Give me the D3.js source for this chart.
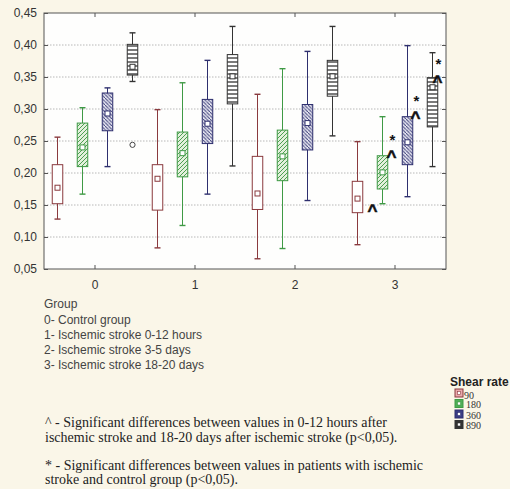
<!DOCTYPE html>
<html><head><meta charset="utf-8">
<script src="https://cdn.jsdelivr.net/npm/d3@7/dist/d3.min.js"></script>
<style>body{margin:0;background:#faf6e8}svg{display:block}</style>
</head><body><svg id="c" width="510" height="489"></svg>
<script>
const groups = ["0","1","2","3"];
const series = ["90","180","360","890"];
// per series: arrays over groups
const whiskerLow  = {"90":[0.128,0.083,0.066,0.088],"180":[0.167,0.118,0.082,0.152],"360":[0.210,0.167,0.157,0.163],"890":[0.343,0.211,0.258,0.210]};
const boxLow      = {"90":[0.152,0.142,0.143,0.138],"180":[0.210,0.194,0.188,0.175],"360":[0.266,0.246,0.236,0.213],"890":[0.353,0.308,0.320,0.272]};
const meanValue   = {"90":[0.177,0.191,0.168,0.160],"180":[0.240,0.231,0.226,0.201],"360":[0.293,0.277,0.278,0.248],"890":[0.366,0.351,0.351,0.334]};
const boxHigh     = {"90":[0.213,0.213,0.226,0.187],"180":[0.278,0.264,0.267,0.227],"360":[0.325,0.315,0.307,0.288],"890":[0.401,0.385,0.376,0.349]};
const whiskerHigh = {"90":[0.256,0.299,0.323,0.249],"180":[0.302,0.341,0.363,0.288],"360":[0.333,0.376,0.390,0.399],"890":[0.419,0.429,0.429,0.388]};
const outlierGroup = ["0"], outlierSeries = ["890"], outlierValue = [0.244];
const yTicks = [0.05,0.10,0.15,0.20,0.25,0.30,0.35,0.40,0.45];
const markGroup  = ["3","3","3","3","3","3","3"];
const markSeries = ["90","180","180","360","360","890","890"];
const markSymbol = ["^","^","*","^","*","^","*"];
const markValue  = [0.150,0.234,0.258,0.295,0.319,0.351,0.376];
const markShift  = [15,9,10,8,9,5,6];
const groupTitle = "Group";
const groupLines = ["0- Control group","1- Ischemic stroke 0-12 hours","2- Ischemic stroke 3-5 days","3- Ischemic stroke 18-20 days"];
const note1 = ["^ - Significant differences between values in 0-12 hours after","ischemic stroke and 18-20 days after ischemic stroke  (p<0,05)."];
const note2 = ["* - Significant differences between values in patients with ischemic","stroke and control group (p<0,05)."];

const stroke = {"90":"#8a3a3e","180":"#3f9a45","360":"#2e2f6e","890":"#333333"};
const fill = {"90":"#ffffff","180":"url(#pg)","360":"url(#pb)","890":"url(#pk)"};

const svg = d3.select("#c");
svg.append("rect").attr("width",510).attr("height",489).attr("fill","#faf6e8");
const defs = svg.append("defs");
function pat(id,bg,col,size,d,sw){
  const p=defs.append("pattern").attr("id",id).attr("patternUnits","userSpaceOnUse").attr("width",size).attr("height",size);
  p.append("rect").attr("width",size).attr("height",size).attr("fill",bg);
  p.append("path").attr("d",d).attr("stroke",col).attr("stroke-width",sw).attr("fill","none");
}
pat("pg","#e3f0dc","#4d9f52",4,"M-1,1 l2,-2 M0,4 l4,-4 M3,5 l2,-2",1);
pat("pb","#e4e4ef","#3a3b78",3.5,"M-1,-1 l2,2 M0,0 l3.5,3.5 M2.5,4.5 l2,2",1);
pat("pk","#ffffff","#333",4,"M0,2 H4",1.3);

const L=44, R=446, T=13, B=269;
const y = d3.scaleLinear().domain([0.05,0.45]).range([B,T]);
const x0 = d3.scaleBand().domain(groups).range([45,445]).padding(0);
const x1 = d3.scaleBand().domain(series).range([0,x0.bandwidth()]);
const bw = x1.bandwidth()*0.42;
const cx = (g,s)=>x0(g)+x1(s)+x1.bandwidth()/2;

svg.append("rect").attr("x",L).attr("y",T).attr("width",R-L).attr("height",B-T).attr("fill","#fefefd");
// grid
svg.append("g").selectAll("line").data(yTicks.slice(1,-1)).join("line")
  .attr("x1",L).attr("x2",R).attr("y1",d=>y(d)).attr("y2",d=>y(d))
  .attr("stroke","#b8b8b8").attr("stroke-dasharray","1.5,1.5");
// frame
svg.append("rect").attr("x",L).attr("y",T).attr("width",R-L).attr("height",B-T).attr("fill","none").attr("stroke","#555").attr("stroke-width",1);
// axes
const fmt = d=>d3.format(".2f")(d).replace(".",",");
const ya = svg.append("g").attr("transform",`translate(${L},0)`).call(d3.axisLeft(y).tickValues(yTicks).tickFormat(fmt).tickSize(-4).tickPadding(7));
ya.select(".domain").remove();
const yr = svg.append("g").attr("transform",`translate(${R},0)`).call(d3.axisRight(y).tickValues(yTicks).tickFormat("").tickSize(-4));
yr.select(".domain").remove();
const xa = svg.append("g").attr("transform",`translate(0,${B})`).call(d3.axisBottom(x0).tickSize(-4).tickPadding(11));
xa.select(".domain").remove();
const xt = svg.append("g").attr("transform",`translate(0,${T})`).call(d3.axisTop(x0).tickFormat("").tickSize(-4));
xt.select(".domain").remove();
svg.selectAll(".tick line").attr("stroke","#555");
svg.selectAll(".tick text").attr("font-family","Liberation Sans, Arial, sans-serif").attr("font-size",12).attr("fill","#333");

// boxes
const items=[];
groups.forEach((g,gi)=>series.forEach(s=>items.push({g,s,wl:whiskerLow[s][gi],bl:boxLow[s][gi],m:meanValue[s][gi],bh:boxHigh[s][gi],wh:whiskerHigh[s][gi]})));
const bx = svg.append("g").selectAll("g").data(items).join("g").attr("stroke",d=>stroke[d.s]).attr("stroke-width",1);
bx.append("line").attr("x1",d=>cx(d.g,d.s)).attr("x2",d=>cx(d.g,d.s)).attr("y1",d=>y(d.wl)).attr("y2",d=>y(d.wh));
bx.append("line").attr("x1",d=>cx(d.g,d.s)-3).attr("x2",d=>cx(d.g,d.s)+3).attr("y1",d=>y(d.wl)).attr("y2",d=>y(d.wl)).attr("stroke-width",1.4);
bx.append("line").attr("x1",d=>cx(d.g,d.s)-3).attr("x2",d=>cx(d.g,d.s)+3).attr("y1",d=>y(d.wh)).attr("y2",d=>y(d.wh)).attr("stroke-width",1.4);
bx.append("rect").attr("x",d=>cx(d.g,d.s)-bw/2).attr("width",bw).attr("y",d=>y(d.bh)).attr("height",d=>y(d.bl)-y(d.bh)).attr("fill",d=>fill[d.s]);
bx.append("rect").attr("x",d=>cx(d.g,d.s)-2.5).attr("width",5).attr("y",d=>y(d.m)-2.5).attr("height",5).attr("fill","#fff");
// outliers
svg.append("g").selectAll("circle").data(outlierValue).join("circle")
  .attr("cx",(d,i)=>cx(outlierGroup[i],outlierSeries[i])).attr("cy",d=>y(d)).attr("r",2.6)
  .attr("fill","#fff").attr("stroke","#444");
// significance marks
svg.append("g").selectAll("text").data(markValue).join("text")
  .attr("x",(d,i)=>cx(markGroup[i],markSeries[i])+markShift[i])
  .attr("y",(d,i)=>y(d)+(markSymbol[i]==="^"?11:9))
  .attr("text-anchor","middle").attr("font-family","Liberation Sans, Arial, sans-serif")
  .attr("font-weight","bold").attr("font-size",(d,i)=>markSymbol[i]==="^"?17:15).attr("fill","#111")
  .attr("stroke",(d,i)=>markSymbol[i]==="^"?"#111":"none").attr("stroke-width",0.6)
  .text((d,i)=>markSymbol[i]);

// group text
const gt = svg.append("g").attr("font-family","Liberation Sans, Arial, sans-serif").attr("font-size",12).attr("fill","#444");
gt.append("text").attr("x",44).attr("y",308).text(groupTitle);
gt.selectAll("text.l").data(groupLines).join("text").attr("class","l").attr("x",44).attr("y",(d,i)=>323.5+i*15).text(d=>d);

// notes
const nt = svg.append("g").attr("font-family","Liberation Serif, Times New Roman, serif").attr("font-size",14).attr("fill","#222");
nt.selectAll("text.a").data(note1).join("text").attr("class","a").attr("x",45).attr("y",(d,i)=>427+i*15).text(d=>d);
nt.selectAll("text.b").data(note2).join("text").attr("class","b").attr("x",45).attr("y",(d,i)=>470+i*14).text(d=>d);

// legend
const lg = svg.append("g");
lg.append("text").attr("x",450).attr("y",386).attr("font-family","Liberation Sans, Arial, sans-serif").attr("font-weight","bold").attr("font-size",12).attr("fill","#222").text("Shear rate");
const lgFill = {"90":"#e9a8ac","180":"#4fae58","360":"#3a3d86","890":"#333"};
const li = lg.selectAll("g.i").data(series).join("g").attr("class","i").attr("transform",(d,i)=>`translate(455,${389+i*10.5})`);
li.append("rect").attr("width",8).attr("height",8).attr("fill",d=>lgFill[d]).attr("stroke",d=>stroke[d]);
li.append("rect").attr("x",2.5).attr("y",2.5).attr("width",3).attr("height",3).attr("fill","#fff").attr("stroke",d=>stroke[d]).attr("stroke-width",0.6);
li.append("text").attr("x",(d,i)=>i===0?9:11).attr("y",(d,i)=>i===0?9.5:8.5).attr("font-family","Liberation Serif, Times New Roman, serif").attr("font-size",10).attr("fill","#333").text(d=>d);
</script></body></html>
